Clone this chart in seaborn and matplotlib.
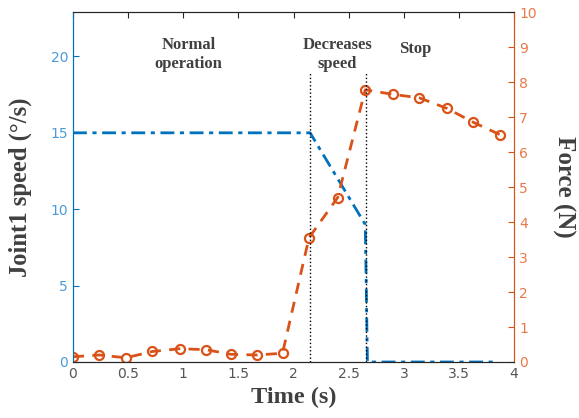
import numpy as np
import pandas as pd
import matplotlib
matplotlib.use('Agg')
import matplotlib.pyplot as plt
import seaborn as sns

# Joint speed (left axis)
speed_time = [0, 2.15, 2.65, 2.67, 3.85]
speed_vals = [15, 15, 9, 0, 0]

# Force (right axis)
force_time = [0, 0.24, 0.48, 0.72, 0.97, 1.21, 1.43, 1.67, 1.9, 2.14,
              2.4, 2.65, 2.9, 3.14, 3.39, 3.63, 3.87]
force_vals = [0.15, 0.2, 0.12, 0.3, 0.38, 0.35, 0.22, 0.2, 0.25, 3.55,
              4.7, 7.78, 7.65, 7.55, 7.25, 6.85, 6.5]

phase_lines = [2.15, 2.66]
phase_labels = ['Normal\noperation', 'Decreases\nspeed', 'Stop']
phase_label_x = [1.05, 2.4, 3.1]
phase_label_y = [8.8, 8.8, 8.95]

blue = '#0072BD'
orange = '#D95319'
blue_tick = '#4D9BD6'
orange_tick = '#E8794A'
label_gray = '#404040'

sns.set_style('white')
plt.rcParams['font.family'] = ['DejaVu Sans']

df_speed = pd.DataFrame({'time': speed_time, 'speed': speed_vals})
df_force = pd.DataFrame({'time': force_time, 'force': force_vals})

fig = plt.figure(figsize=(5.79, 4.18), dpi=100)
ax = fig.add_axes([0.126, 0.134, 0.762, 0.837])
ax2 = ax.twinx()

sns.lineplot(data=df_speed, x='time', y='speed', ax=ax, color=blue,
             linewidth=2, linestyle=(0, (5, 2, 1.5, 2)), sort=False)
sns.lineplot(data=df_force, x='time', y='force', ax=ax2, color=orange,
             linewidth=2, linestyle=(0, (4, 3)), marker='o', markersize=6.5,
             markerfacecolor='none', markeredgecolor=orange, markeredgewidth=1.6)

for xv in phase_lines:
    ax2.plot([xv, xv], [0, 8.25], color='black', linestyle=':', linewidth=1)

for txt, xv, yv in zip(phase_labels, phase_label_x, phase_label_y):
    ax2.text(xv, yv, txt, ha='center', va='center', fontsize=12,
             fontweight='bold', color=label_gray, family='Liberation Serif',
             linespacing=1.25)

ax.set_xlim(0, 4)
ax.set_ylim(0, 22.9)
ax2.set_ylim(0, 10)
ax.set_xticks(np.arange(0, 4.01, 0.5))
ax.set_xticklabels(['0', '0.5', '1', '1.5', '2', '2.5', '3', '3.5', '4'])
ax.set_yticks([0, 5, 10, 15, 20])
ax2.set_yticks(range(0, 11))

ax.set_xlabel('Time (s)', fontsize=17.5, fontweight='bold', color=label_gray,
              family='Liberation Serif', labelpad=4)
ax.set_ylabel('Joint1 speed (°/s)', fontsize=17.7, fontweight='bold',
              color=label_gray, family='Liberation Serif', labelpad=13)
ax2.set_ylabel('Force (N)', fontsize=18, fontweight='bold', color=label_gray,
               family='Liberation Serif', rotation=270, labelpad=28)

ax.tick_params(axis='x', direction='in', length=4, colors='#262626',
               labelcolor='#555555', labelsize=10, top=True)
ax.tick_params(axis='y', direction='in', length=4, colors=blue,
               labelcolor=blue_tick, labelsize=10)
ax2.tick_params(axis='y', direction='in', length=4, colors=orange,
                labelcolor=orange_tick, labelsize=10)

for a in (ax, ax2):
    a.spines['top'].set_color('#262626')
    a.spines['bottom'].set_color('#262626')
    a.spines['left'].set_color(blue)
    a.spines['right'].set_color(orange)
    for s in a.spines.values():
        s.set_linewidth(0.8)

fig.savefig('out.png', dpi=100)
